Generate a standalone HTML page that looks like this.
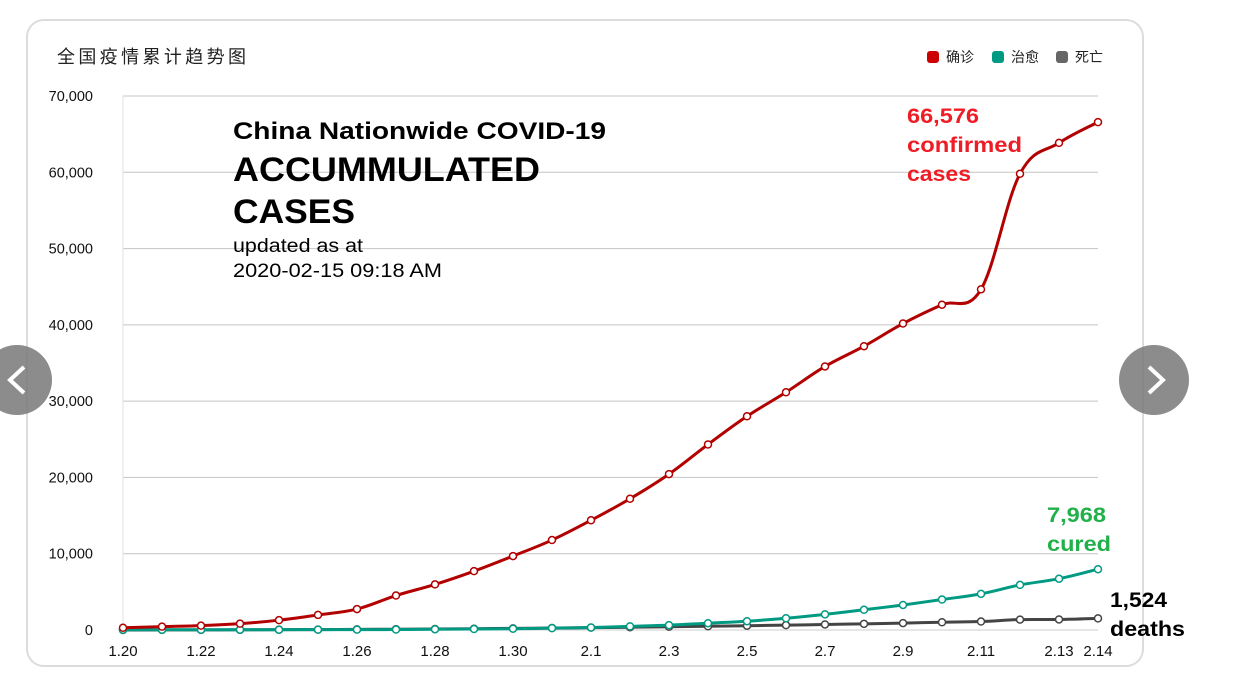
<!DOCTYPE html>
<html><head><meta charset="utf-8"><style>
body{margin:0;width:1233px;height:693px;background:#fff;overflow:hidden;position:relative;font-family:"Liberation Sans","Noto Sans CJK SC",sans-serif}
.card{position:absolute;left:26px;top:19px;width:1118px;height:648px;border:2px solid #dcdcdf;border-radius:18px;box-sizing:border-box}
.nav{position:absolute;top:345px;width:70px;height:70px;border-radius:50%;background:rgba(120,120,120,0.85)}
</style></head><body>
<div class="card"></div>
<svg width="1233" height="693" style="position:absolute;left:0;top:0" id="chart">
<text x="57" y="63" font-size="18" fill="#222" font-family="Liberation Sans, Noto Sans CJK SC, sans-serif" textLength="189">全国疫情累计趋势图</text>
<g id="legend" font-size="14" font-family="Liberation Sans, Noto Sans CJK SC, sans-serif" fill="#222">
<g><rect x="927" y="51" width="12" height="12" rx="3" fill="#cc0000"/><text x="946" y="62">确诊</text></g>
<g><rect x="992" y="51" width="12" height="12" rx="3" fill="#009a83"/><text x="1011" y="62">治愈</text></g>
<g><rect x="1056" y="51" width="12" height="12" rx="3" fill="#666"/><text x="1075" y="62">死亡</text></g>
</g>
<g id="grid"></g><g id="series"></g>
<g font-family="Liberation Sans, sans-serif">
<text x="233" y="139" font-size="24" font-weight="bold" textLength="373" lengthAdjust="spacingAndGlyphs">China Nationwide COVID-19</text>
<text x="233" y="181" font-size="34" font-weight="bold" textLength="307" lengthAdjust="spacingAndGlyphs">ACCUMMULATED</text>
<text x="233" y="223" font-size="34" font-weight="bold" textLength="122" lengthAdjust="spacingAndGlyphs">CASES</text>
<text x="233" y="252" font-size="19" textLength="130" lengthAdjust="spacingAndGlyphs">updated as at</text>
<text x="233" y="277" font-size="19" textLength="209" lengthAdjust="spacingAndGlyphs">2020-02-15 09:18 AM</text>
<g font-size="21" font-weight="bold" fill="#ee1c25"><text x="907" y="123" textLength="72" lengthAdjust="spacingAndGlyphs">66,576</text><text x="907" y="152" textLength="115" lengthAdjust="spacingAndGlyphs">confirmed</text><text x="907" y="181" textLength="64" lengthAdjust="spacingAndGlyphs">cases</text></g>
<g font-size="21" font-weight="bold" fill="#22b04b"><text x="1047" y="522" textLength="59" lengthAdjust="spacingAndGlyphs">7,968</text><text x="1047" y="551" textLength="64" lengthAdjust="spacingAndGlyphs">cured</text></g>
<g font-size="21" font-weight="bold" fill="#000"><text x="1110" y="607" textLength="57" lengthAdjust="spacingAndGlyphs">1,524</text><text x="1110" y="636" textLength="75" lengthAdjust="spacingAndGlyphs">deaths</text></g>
</g>
</svg>
<div class="nav" style="left:-18px"><svg width="70" height="70"><polyline points="42,22 28,35 42,48" fill="none" stroke="#fff" stroke-width="4"/></svg></div>
<div class="nav" style="left:1119px"><svg width="70" height="70"><polyline points="30,22 44,35 30,48" fill="none" stroke="#fff" stroke-width="4"/></svg></div>
<script>
const categories=["1.20","1.21","1.22","1.23","1.24","1.25","1.26","1.27","1.28","1.29","1.30","1.31","2.1","2.2","2.3","2.4","2.5","2.6","2.7","2.8","2.9","2.10","2.11","2.12","2.13","2.14"];
const confirmed=[291,440,571,830,1287,1975,2744,4515,5974,7711,9692,11791,14380,17205,20438,24324,28018,31161,34546,37198,40171,42638,44653,59804,63851,66576];
const cured=[25,25,28,34,38,49,51,60,103,124,171,243,328,475,632,892,1153,1540,2050,2649,3281,3996,4740,5911,6723,7968];
const deaths=[6,9,17,25,41,56,80,106,132,170,213,259,304,361,425,490,563,636,722,811,908,1016,1113,1367,1380,1524];
const yTicks=[0,10000,20000,30000,40000,50000,60000,70000];
const xTickLabels=["1.20","1.22","1.24","1.26","1.28","1.30","2.1","2.3","2.5","2.7","2.9","2.11","2.13","2.14"];
const X0=123,X1=1098,Y0=630,Y1=96,YMAX=70000;
const xs=i=>X0+(X1-X0)*i/(categories.length-1);
const ys=v=>Y0-(Y0-Y1)*v/YMAX;
const NS="http://www.w3.org/2000/svg";
const grid=document.getElementById('grid'),ser=document.getElementById('series');
function mk(tag,at,p){const e=document.createElementNS(NS,tag);for(const k in at)e.setAttribute(k,at[k]);p.appendChild(e);return e;}
yTicks.forEach(t=>{
 const l=mk('line',{x1:X0,x2:X1,y1:ys(t),y2:ys(t),stroke:t===0?'#ccc':'#c4c4c4','stroke-width':1},grid);
 
 
 const tx=mk('text',{x:93,y:ys(t)+5,'text-anchor':'end','font-size':14.5,fill:'#111','font-family':'Liberation Sans, sans-serif'},grid);
 tx.textContent=t.toLocaleString('en-US');
 
 
});
const ax=mk('line',{x1:X0,x2:X0,y1:Y1,y2:Y0,stroke:'#e2e2e2'},grid);


xTickLabels.forEach(lb=>{
 const i=categories.indexOf(lb);
 const tx=mk('text',{x:xs(i),y:656,'text-anchor':'middle','font-size':15,fill:'#111','font-family':'Liberation Sans, sans-serif'},grid);
 tx.textContent=lb;
 
 
});
function path(vals){
 const p=vals.map((v,i)=>[xs(i),ys(v)]);let d='M'+p[0][0]+','+p[0][1];
 for(let i=0;i<p.length-1;i++){const a=p[i-1]||p[i],b=p[i],c=p[i+1],e=p[i+2]||c;const t=0.18;
  d+=` C${b[0]+(c[0]-a[0])*t},${b[1]+(c[1]-a[1])*t} ${c[0]-(e[0]-b[0])*t},${c[1]-(e[1]-b[1])*t} ${c[0]},${c[1]}`;}
 return d;}
[[deaths,'#444','deaths-line'],[cured,'#009a83','cured-line'],[confirmed,'#b30000','confirmed-line']].forEach(([vals,col,name])=>{
 const pa=mk('path',{d:path(vals),fill:'none',stroke:col,'stroke-width':3},ser);
 
 
 vals.forEach((v,i)=>{
  const c=mk('circle',{cx:xs(i),cy:ys(v),r:3.5,fill:'#fff',stroke:col,'stroke-width':1.5},ser);
  
  
 });
});
</script>
</body></html>
